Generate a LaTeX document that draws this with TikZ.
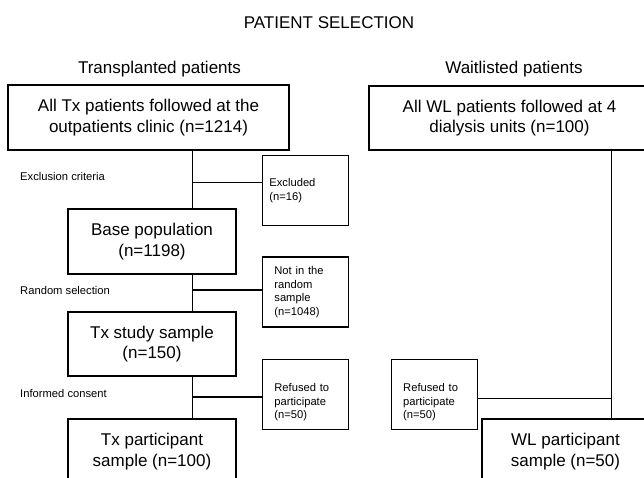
\documentclass[tikz,border=0pt]{standalone}
\usepackage{fontspec}
\setmainfont{Liberation Sans}
\begin{document}
\begin{tikzpicture}[x=1pt,y=-1pt,
        bigfont/.style={font=\fontsize{17}{20.5}\selectfont},
        smallfont/.style={font=\fontsize{11.2}{13.5}\selectfont},
        bigbox/.style={draw, line width=1.1pt, bigfont, align=center,
            inner sep=0pt, minimum width=168pt, minimum height=65pt},
        smallbox/.style={draw, line width=1.1pt, smallfont, align=left,
            text width=62pt, inner xsep=12pt, inner ysep=0pt, minimum height=70pt},
        link/.style={line width=1.1pt}]
            \path[use as bounding box] (0,0) rectangle (644,478);
            \clip (0,0) rectangle (644,478);

            \node[bigfont, anchor=base] (title) at (329,29) {PATIENT SELECTION};
            \node[bigfont, anchor=base] (txhead) at (159.5,74) {Transplanted patients};
            \node[bigfont, anchor=base] (wlhead) at (514,74) {Waitlisted patients};

            \node[bigbox, minimum width=281pt] (txall) at (148.5,117.5)
                {All Tx patients followed at the\\outpatients clinic (n=1214)};
            \node[bigbox] (base) at (152,241.5) {Base population\\(n=1198)};
            \node[bigbox, minimum height=64pt] (study) at (152,344) {Tx study sample\\(n=150)};
            \node[bigbox] (txpart) at (152,451.5) {Tx participant\\sample (n=100)};

            \node[smallbox, text width=72pt, inner xsep=7pt] (excl) at (305.4,190.7)
                {Excluded\\(n=16)};
            \node[smallbox] (notrand) at (305.4,292) {Not in the\\random\\sample\\(n=1048)};
            \node[smallbox] (reftx) at (305.4,394.7)
                {\rule{0pt}{23pt}Refused to\\participate\\(n=50)};

            \node[smallfont, anchor=base west] (excllab) at (16.7,181) {Exclusion criteria};
            \node[smallfont, anchor=base west] (randlab) at (16.7,294) {Random selection};
            \node[smallfont, anchor=base west] (conslab) at (16.7,397.3) {Informed consent};

            \node[bigbox, minimum width=281pt, minimum height=64pt] (wlall) at (509.5,118)
                {All WL patients followed at 4\\dialysis units (n=100)};
            \node[bigbox, minimum width=167pt] (wlpart) at (565.5,451.5)
                {WL participant\\sample (n=50)};
            \node[smallbox] (refwl) at (434.2,394.7)
                {\rule{0pt}{23pt}Refused to\\participate\\(n=50)};

            \coordinate (txspine) at (192.3,0);
            \coordinate (wlspine) at (611.7,0);
            \coordinate (exclpt) at (192.3,182.3);
            \coordinate (randpt) at (192.3,290);
            \coordinate (conspt) at (192.3,397);
            \coordinate (wlpt) at (611.7,398.3);

            \draw[link] (txall.south -| txspine) -- (base.north -| txspine);
            \draw[link] (base.south -| txspine) -- (study.north -| txspine);
            \draw[link] (study.south -| txspine) -- (txpart.north -| txspine);
            \draw[link] (exclpt) -- (exclpt -| excl.west);
            \draw[link] (randpt) -- (randpt -| notrand.west);
            \draw[link] (conspt) -- (conspt -| reftx.west);

            \draw[link] (wlall.south -| wlspine) -- (wlpart.north -| wlspine);
            \draw[link] (wlpt) -- (wlpt -| refwl.east);
        \end{tikzpicture}
\end{document}
